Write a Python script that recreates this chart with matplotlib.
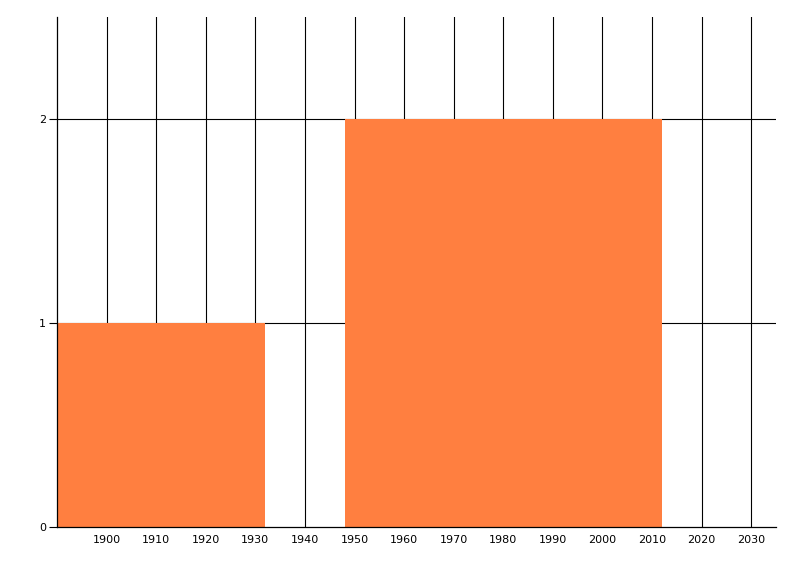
import matplotlib
matplotlib.use("Agg")
import matplotlib.pyplot as plt

bin_left = [1890, 1948]
bin_right = [1932, 2012]
counts = [1, 2]
x_ticks = [1900, 1910, 1920, 1930, 1940, 1950, 1960, 1970, 1980, 1990, 2000, 2010, 2020, 2030]
y_ticks = [0, 1, 2]

fig = plt.figure(figsize=(8, 5.76), dpi=100)
ax = fig.add_axes([57/800, 1-527/576, (776-57)/800, (527-17)/576])

widths = [r - l for l, r in zip(bin_left, bin_right)]
ax.bar(bin_left, counts, width=widths, align='edge', color='#FF7F40', zorder=2, linewidth=0)

ax.set_xlim(1890, 2035)
ax.set_ylim(0, 2.5)
ax.set_xticks(x_ticks)
ax.set_xticklabels([str(t) for t in x_ticks])
ax.set_yticks(y_ticks)
ax.set_yticklabels([str(t) for t in y_ticks])

for t in x_ticks:
    ax.axvline(t, color='black', lw=0.8, zorder=1)
for t in y_ticks[1:]:
    ax.axhline(t, color='black', lw=0.8, zorder=1)

for s in ['top', 'right']:
    ax.spines[s].set_visible(False)
for s in ['left', 'bottom']:
    ax.spines[s].set_linewidth(0.9)
    ax.spines[s].set_color('black')
    ax.spines[s].set_zorder(3)

ax.tick_params(axis='x', length=0, pad=6, labelsize=8)
ax.tick_params(axis='y', length=6, width=0.8, pad=2, labelsize=8)

fig.savefig("out.png", dpi=100)
